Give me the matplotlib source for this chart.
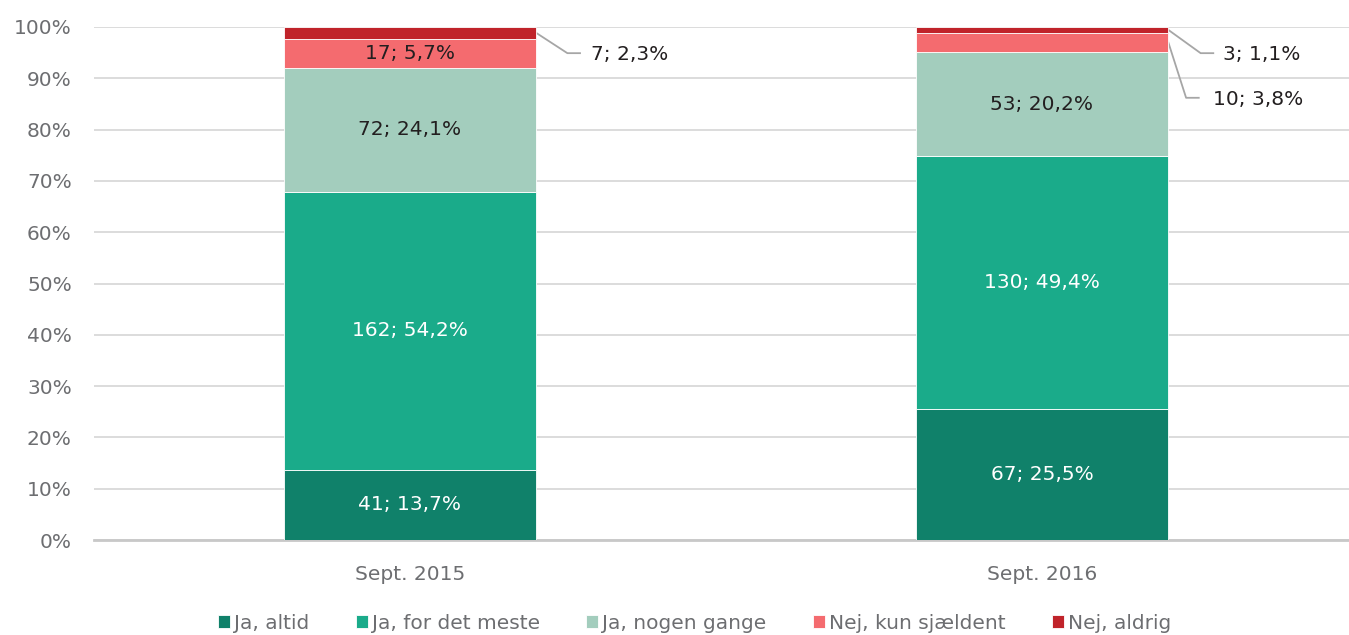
import numpy as np
import matplotlib.pyplot as plt

plt.rcParams['font.family'] = ['DejaVu Sans']

# Data
periods = ["Sept. 2015", "Sept. 2016"]
answers = ["Ja, altid", "Ja, for det meste", "Ja, nogen gange", "Nej, kun sjældent", "Nej, aldrig"]
counts_2015 = [41, 162, 72, 17, 7]
counts_2016 = [67, 130, 53, 10, 3]
pct_2015 = [13.7, 54.2, 24.1, 5.7, 2.3]
pct_2016 = [25.5, 49.4, 20.2, 3.8, 1.1]

colors = ["#10816a", "#1aab8a", "#a3cdbd", "#f46b6f", "#c0232a"]
text_colors = ["white", "white", "#231f20", "#231f20", "#231f20"]

counts = np.array([counts_2015, counts_2016])
pcts = np.array([pct_2015, pct_2016])
shares = counts / counts.sum(axis=1, keepdims=True)

fig = plt.figure(figsize=(13.49, 6.35), dpi=100)
ax = fig.add_axes([94 / 1349, 95 / 635, 1255 / 1349, 513 / 635])

x = np.arange(len(periods))
bottom = np.zeros(len(periods))
for i, name in enumerate(answers):
    ax.bar(x, shares[:, i], bottom=bottom, width=0.4, color=colors[i],
           edgecolor="white", linewidth=0.6, label=name, zorder=3)
    for j in range(len(periods)):
        lbl = f"{counts[j, i]}; {pcts[j, i]:.1f}%".replace(".", ",")
        mid = bottom[j] + shares[j, i] / 2
        if shares[j, i] > 0.05:
            ax.text(x[j], mid, lbl, ha="center", va="center", fontsize=14.5,
                    color=text_colors[i], zorder=4)
    bottom += shares[:, i]

# small segments labelled outside with leader lines
def leader(j, i, dx, y_text, gap):
    top = shares[j, :i + 1].sum()
    mid = top - shares[j, i] / 2
    x0 = x[j] + 0.2
    x1 = x0 + dx
    ax.plot([x0, x1, x1 + 0.02], [mid, y_text, y_text], color="#a6a6a6",
            lw=1.3, zorder=2, clip_on=False)
    lbl = f"{counts[j, i]}; {pcts[j, i]:.1f}%".replace(".", ",")
    ax.text(x0 + gap, y_text - 0.003, lbl, ha="left", va="center", fontsize=14.5, color="#231f20")

leader(0, 4, 0.049, 0.949, 0.086)
leader(1, 4, 0.051, 0.949, 0.087)
leader(1, 3, 0.028, 0.862, 0.070)

ax.set_xlim(-0.5, -0.5 + 1255 / 632)
ax.set_ylim(0, 1)
ax.set_yticks(np.arange(0, 1.01, 0.1))
ax.set_yticklabels([f"{v}%" for v in range(0, 101, 10)])
ax.set_xticks(x)
ax.set_xticklabels(periods)
ax.tick_params(axis="both", length=0, labelsize=14.5, labelcolor="#6d6e71")
ax.tick_params(axis="y", pad=16)
ax.tick_params(axis="x", pad=18)
ax.grid(axis="y", color="#d9d9d9", lw=1.3, zorder=0)
for s in ["top", "right", "left"]:
    ax.spines[s].set_visible(False)
ax.spines["bottom"].set_color("#c8c8c8")
ax.spines["bottom"].set_linewidth(2)

fig.legend(loc="lower center", bbox_to_anchor=(0.515, -0.025), ncol=5, frameon=False,
           fontsize=14.5, labelcolor="#6d6e71", handlelength=0.6, handleheight=0.6,
           handletextpad=0.2, columnspacing=2.3)

plt.savefig("out.png", dpi=100)
